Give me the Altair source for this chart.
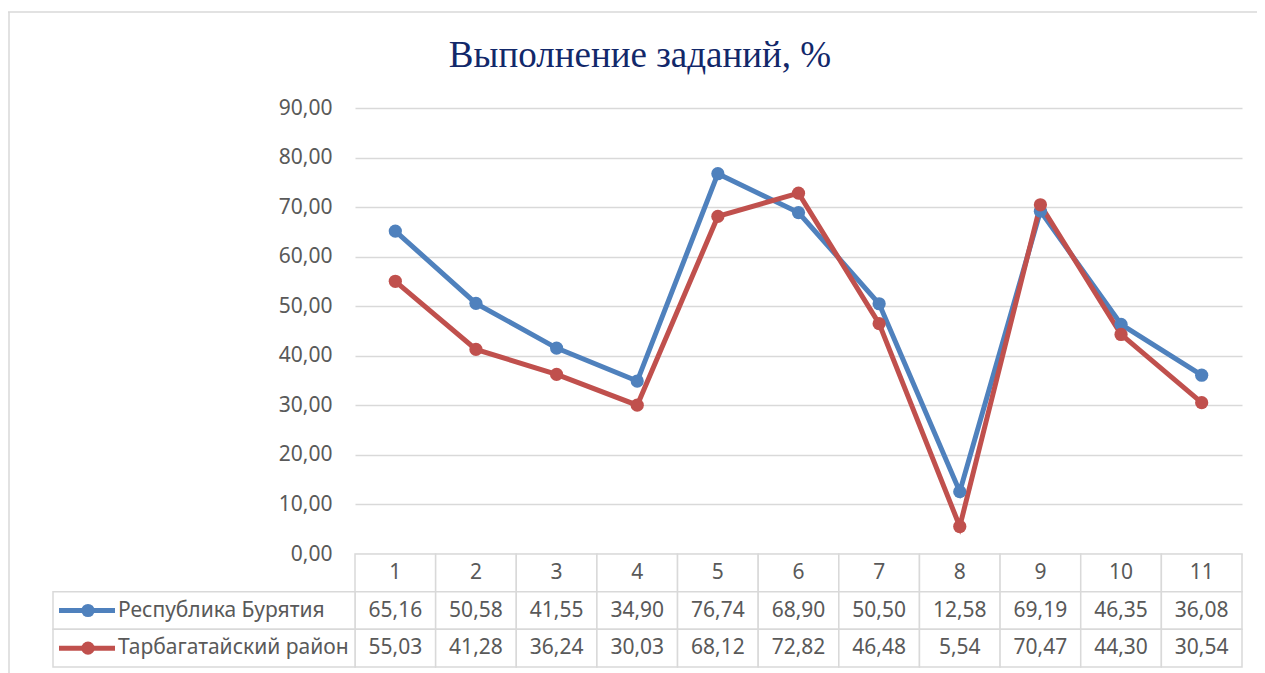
import altair as alt
import pandas as pd

# ---- data ----
tasks = [1, 2, 3, 4, 5, 6, 7, 8, 9, 10, 11]
series_names = ["Республика Бурятия", "Тарбагатайский район"]
buryatia = [65.16, 50.58, 41.55, 34.90, 76.74, 68.90, 50.50, 12.58, 69.19, 46.35, 36.08]
tarbagatai = [55.03, 41.28, 36.24, 30.03, 68.12, 72.82, 46.48, 5.54, 70.47, 44.30, 30.54]
y_ticks = [0, 10, 20, 30, 40, 50, 60, 70, 80, 90]
title_text = "Выполнение заданий, %"
colors = ["#4F81BD", "#C0504D"]

header_key = "hdr"
row_domain = [header_key] + series_names

long_df = pd.DataFrame(
    [{"series": series_names[0], "cat": t, "value": v} for t, v in zip(tasks, buryatia)]
    + [{"series": series_names[1], "cat": t, "value": v} for t, v in zip(tasks, tarbagatai)]
)
header_df = pd.DataFrame({"cat": tasks, "row": [header_key] * len(tasks)})
cells_df = pd.DataFrame([{"cat": t, "row": r} for r in row_domain for t in tasks])
legend_df = pd.DataFrame({"series": series_names})
title_df = pd.DataFrame({"t": [title_text]})

W, H = 887, 559
PLOT_H = 446
FONT = "Noto Sans"
FS = 21
TXT = "#595959"
GRID = "#D9D9D9"
MSIZE = 175
LW = 5

xs = alt.Scale(type="band", domain=tasks, paddingInner=0, paddingOuter=0)
color = alt.Color("series:N", scale=alt.Scale(domain=series_names, range=colors), legend=None)
fmt = "replace(format(datum.value, '.2f'), '.', ',')"

# ---- line chart ----
yq = alt.Y(
    "value:Q",
    scale=alt.Scale(domain=[0, 90], range=[PLOT_H, 0]),
    axis=alt.Axis(
        values=y_ticks, grid=True, gridColor=GRID, gridWidth=1.5, domain=False, ticks=False,
        labelExpr=fmt, labelFont=FONT, labelFontSize=FS, labelColor=TXT, labelPadding=23,
        title=None,
    ),
)
xq = alt.X("cat:O", scale=xs, axis=None, bandPosition=0.5)

lines = alt.Chart(long_df).mark_line(strokeWidth=LW).encode(x=xq, y=yq, color=color, detail="series:N")
points = alt.Chart(long_df).mark_point(filled=True, size=MSIZE, opacity=1).encode(x=xq, y=yq, color=color)
plot_group = alt.layer(lines, points)

# ---- data table ----
yr = alt.Y("row:N", scale=alt.Scale(type="band", domain=row_domain, range=[PLOT_H, H], paddingInner=0, paddingOuter=0), axis=None)
yr_c = alt.Y("row:N", scale=alt.Scale(type="band", domain=row_domain, range=[PLOT_H, H], paddingInner=0, paddingOuter=0), axis=None, bandPosition=0.5)
xr = alt.X("cat:O", scale=xs, axis=None)

cells = alt.Chart(cells_df).mark_rect(fill="white", stroke=GRID, strokeWidth=1.5).encode(x=xr, y=yr)
label_cells = alt.Chart(legend_df).transform_calculate(row="datum.series").mark_rect(
    fill="white", stroke=GRID, strokeWidth=1.5
).encode(x=alt.value(-302), x2=alt.value(0), y=yr)

header_text = alt.Chart(header_df).mark_text(font=FONT, fontSize=FS, color=TXT, baseline="middle").encode(
    x=alt.X("cat:O", scale=xs, axis=None, bandPosition=0.5), y=yr_c, text="cat:N"
)
value_text = alt.Chart(long_df).transform_calculate(row="datum.series", label=fmt).mark_text(
    font=FONT, fontSize=FS, color=TXT, baseline="middle"
).encode(x=alt.X("cat:O", scale=xs, axis=None, bandPosition=0.5), y=yr_c, text="label:N")

leg_base = alt.Chart(legend_df).transform_calculate(row="datum.series")
leg_rule = leg_base.mark_rule(strokeWidth=LW).encode(x=alt.value(-296), x2=alt.value(-240), y=yr_c, color=color)
leg_pt = leg_base.mark_point(filled=True, size=MSIZE, opacity=1).encode(x=alt.value(-267), y=yr_c, color=color)
leg_txt = leg_base.mark_text(font=FONT, fontSize=FS, color=TXT, align="left", baseline="middle").encode(
    x=alt.value(-237), y=yr_c, text="series:N"
)

table_group = alt.layer(cells, label_cells, header_text, value_text, leg_rule, leg_pt, leg_txt)

# ---- title & frame ----
title = alt.Chart(title_df).mark_text(
    font="Liberation Serif", fontSize=37, color="#12286A", align="center", baseline="alphabetic"
).encode(x=alt.value(285), y=alt.value(-41), text="t:N")

frame_top = alt.Chart(title_df).mark_rule(color=GRID, strokeWidth=1.5).encode(
    x=alt.value(-347), x2=alt.value(W + 15), y=alt.value(-96)
)
frame_left = alt.Chart(title_df).mark_rule(color=GRID, strokeWidth=1.5).encode(
    x=alt.value(-346), y=alt.value(-96), y2=alt.value(H + 6)
)
deco = alt.layer(title, frame_top, frame_left)

chart = (
    alt.layer(deco, table_group, plot_group)
    .resolve_scale(y="independent")
    .properties(
        width=W,
        height=H,
        autosize=alt.AutoSizeParams(type="none"),
        padding={"left": 347, "top": 100, "right": 15, "bottom": 6},
    )
    .configure_view(stroke=None)
)

chart.save("out.html", embed_options={"renderer": "svg", "actions": False})
